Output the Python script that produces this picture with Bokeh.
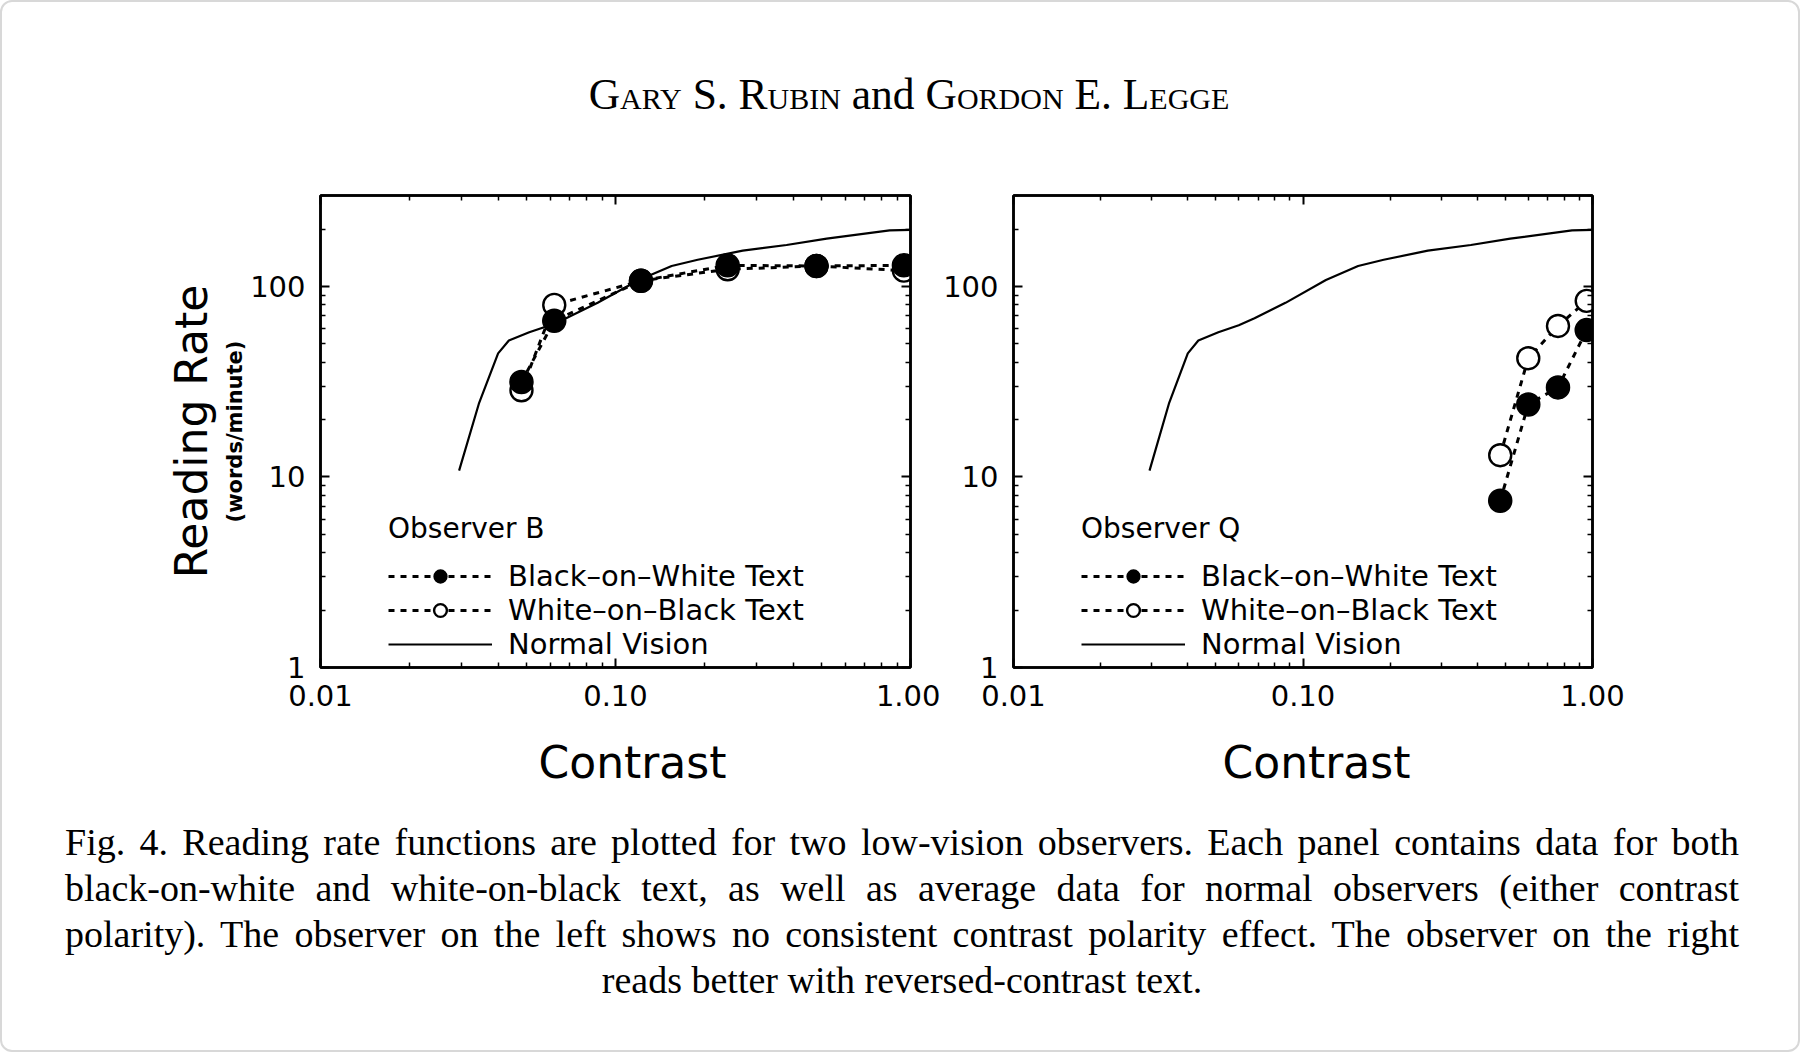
from bokeh.plotting import figure
from bokeh.models import (LogAxis, FixedTicker, CustomJSTickFormatter, Legend,
                          LegendItem, Div, Range1d, Title)
from bokeh.layouts import column, row
from bokeh.embed import file_html
from bokeh.resources import INLINE

# ---------------- data ----------------
x_ticks = [0.01, 0.1, 1.0]
y_ticks = [1, 10, 100]
x_minor = [m * 10.0 ** e for e in (-2, -1) for m in range(2, 10)]
y_minor = [m * 10.0 ** e for e in (0, 1, 2) for m in range(2, 10)]

# average normal-vision reading rate (words/minute) vs contrast
normal_contrast = [0.0295, 0.0345, 0.040, 0.0435, 0.051, 0.060, 0.068, 0.087,
                   0.12, 0.155, 0.19, 0.27, 0.38, 0.52, 0.85, 1.0]
normal_rate = [10.8, 24.5, 44.5, 52, 57.5, 62.5, 68, 82,
               108, 128, 138, 154, 165, 178, 197, 198]

# Observer B
b_contrast = [0.048, 0.062, 0.122, 0.24, 0.48, 0.95]
b_black_on_white = [31.5, 66, 107, 129, 128, 129]
b_white_on_black = [28.5, 80, 107, 123, 128, 121]

# Observer Q
q_contrast = [0.48, 0.60, 0.76, 0.955]
q_black_on_white = [7.5, 24, 29.5, 59]
q_white_on_black = [13, 42, 62, 84]

FONT = "DejaVu Sans"


def style_axis(ax, labels=True):
    ax.axis_line_width = 2.5
    ax.axis_line_color = "black"
    ax.major_tick_in = 9
    ax.major_tick_out = 0
    ax.minor_tick_in = 5
    ax.minor_tick_out = 0
    ax.major_tick_line_width = 2
    ax.minor_tick_line_width = 1.5
    ax.major_label_text_font = FONT
    ax.major_label_text_color = "black"
    if labels:
        ax.major_label_text_font_size = "29px"
    else:
        ax.major_label_text_font_size = "1px"
        ax.major_label_text_alpha = 0
        ax.major_label_standoff = 0
    ax.axis_label_text_font = FONT
    ax.axis_label_text_font_style = "normal"
    ax.axis_label_text_color = "black"


def make_panel(width, border_left, border_right, contrast, bw, wb, observer,
               show_ylabel, xlabel_offset):
    p = figure(width=width, height=665, x_axis_type="log", y_axis_type="log",
               x_range=Range1d(0.01, 1.0), y_range=Range1d(1, 300),
               x_axis_location=None, y_axis_location=None,
               output_backend="svg", toolbar_location=None,
               min_border_left=border_left, min_border_right=border_right,
               min_border_top=45, min_border_bottom=148)
    p.grid.visible = False
    p.outline_line_color = "black"
    p.outline_line_width = 2.5
    p.background_fill_color = "white"
    p.border_fill_color = "white"

    xt = FixedTicker(ticks=x_ticks, minor_ticks=x_minor)
    yt = FixedTicker(ticks=y_ticks, minor_ticks=y_minor)

    xb = LogAxis(ticker=xt, formatter=CustomJSTickFormatter(code="return tick.toFixed(2)"))
    style_axis(xb)
    xb.major_label_standoff = 17
    p.add_layout(xb, "below")
    p.add_layout(Title(text="Contrast", align="left", offset=xlabel_offset, standoff=53,
                       text_font=FONT, text_font_size="44px",
                       text_font_style="normal", text_color="black"), "below")

    yl = LogAxis(ticker=yt, formatter=CustomJSTickFormatter(code="return tick.toFixed(0)"))
    style_axis(yl)
    yl.major_label_standoff = 15
    if show_ylabel:
        yl.axis_label = "(words/minute)"
        yl.axis_label_text_font_size = "21px"
        yl.axis_label_text_font_style = "bold"
        yl.axis_label_standoff = 0
    p.add_layout(yl, "left")
    if show_ylabel:
        t = Title(text="Reading Rate", align="center", text_font=FONT,
                  text_font_size="44px", text_font_style="normal",
                  text_color="black", standoff=8)
        p.add_layout(t, "left")

    xa = LogAxis(ticker=xt)
    style_axis(xa, labels=False)
    p.add_layout(xa, "above")
    yr = LogAxis(ticker=yt)
    style_axis(yr, labels=False)
    p.add_layout(yr, "right")

    nv = p.line(normal_contrast, normal_rate, line_color="black", line_width=2.2)
    wb_line = p.line(contrast, wb, line_color="black", line_width=3, line_dash="6 6")
    bw_line = p.line(contrast, bw, line_color="black", line_width=3, line_dash="6 6")
    wb_pts = p.scatter(contrast, wb, marker="circle", size=22, fill_color="white",
                       line_color="black", line_width=2.4)
    bw_pts = p.scatter(contrast, bw, marker="circle", size=23, fill_color="black",
                       line_color="black", line_width=1.5)

    legend = Legend(items=[
        LegendItem(label="Black\u2013on\u2013White Text", renderers=[bw_line, bw_pts]),
        LegendItem(label="White\u2013on\u2013Black Text", renderers=[wb_line, wb_pts]),
        LegendItem(label="Normal Vision", renderers=[nv]),
    ], title=observer, location=(68, 6))
    legend.background_fill_alpha = 0
    legend.border_line_color = None
    legend.padding = 0
    legend.margin = 0
    legend.spacing = 0
    legend.glyph_width = 104
    legend.glyph_height = 32
    legend.label_standoff = 16
    legend.label_height = 32
    legend.label_text_font = FONT
    legend.label_text_font_size = "29px"
    legend.label_text_color = "black"
    legend.title_text_font = FONT
    legend.title_text_font_size = "28px"
    legend.title_text_font_style = "normal"
    legend.title_text_color = "black"
    legend.title_standoff = 14
    p.add_layout(legend)
    return p


left = make_panel(932, 312, 30, b_contrast, b_black_on_white, b_white_on_black,
                  "Observer B", True, 218)
right = make_panel(852, 68, 200, q_contrast, q_black_on_white, q_white_on_black,
                   "Observer Q", False, 209)

sc = "font-variant:small-caps"
header = Div(text=(
    "<div style=\"font-family:'Liberation Serif';font-size:43.5px;line-height:46px;"
    "text-align:center;width:1784px;padding-left:18px;padding-top:63px;color:#000;\">"
    f"<span style='{sc}'>Gary S. Rubin</span> and "
    f"<span style='{sc}'>Gordon E. Legge</span></div>"),
    width=1784, height=142, margin=0)

caption_lines = [
    "Fig. 4. Reading rate functions are plotted for two low-vision observers. Each panel contains data for both",
    "black-on-white and white-on-black text, as well as average data for normal observers (either contrast",
    "polarity). The observer on the left shows no consistent contrast polarity effect. The observer on the right",
    "reads better with reversed-contrast text.",
]
line_html = ""
for i, ln in enumerate(caption_lines):
    last = "center" if i == len(caption_lines) - 1 else "justify"
    line_html += (f"<div style='white-space:nowrap;text-align:{last};"
                  f"text-align-last:{last};'>{ln}</div>")
caption = Div(text=(
    "<div style=\"font-family:'Liberation Serif';font-size:38px;line-height:46px;"
    "width:1674px;margin-left:57px;padding-top:4px;color:#000;\">" + line_html + "</div>"),
    width=1784, height=229, margin=0)

layout = column(header, row(left, right, spacing=0), caption, spacing=0,
                margin=(8, 8, 8, 8),
                styles={"outline": "2px solid #d8d8d8", "outline-offset": "6px",
                        "border-radius": "4px"})

open("out.html", "w").write(file_html(layout, INLINE))
